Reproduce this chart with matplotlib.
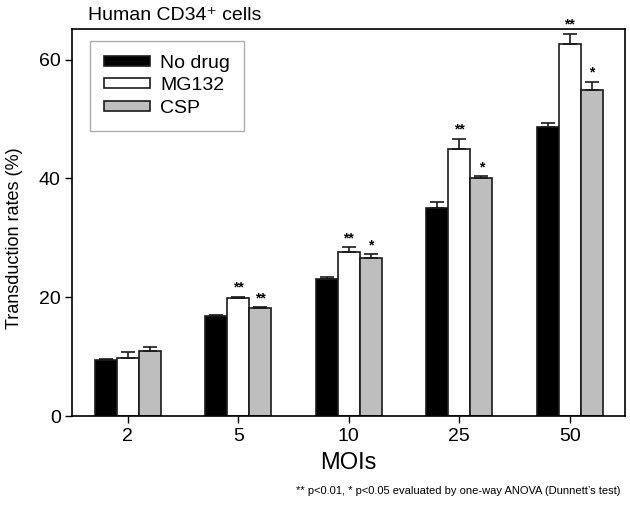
import numpy as np
import matplotlib
matplotlib.use('Agg')
import matplotlib.pyplot as plt

plt.rcParams['font.family'] = ['Liberation Sans', 'DejaVu Sans']

# ------------------------------------------------------------------------------
# data
# ------------------------------------------------------------------------------

mois = ['2', '5', '10', '25', '50']
series = ['No drug', 'MG132', 'CSP']

no_drug = [9.4, 16.9, 23.0, 35.1, 48.6]
no_drug_err = [0.2, 0.1, 0.5, 0.9, 0.8]
mg132 = [9.8, 19.8, 27.7, 45.0, 62.7]
mg132_err = [1.0, 0.3, 0.7, 1.7, 1.7]
csp = [11.0, 18.2, 26.6, 40.1, 54.9]
csp_err = [0.6, 0.2, 0.7, 0.3, 1.4]

mg132_sig = ['', '**', '**', '**', '**']
csp_sig = ['', '**', '*', '*', '*']

FACE_COLORS = ['#000000', '#ffffff', '#bebebe']
EDGE_COLOR = '#1a1a1a'

# ------------------------------------------------------------------------------
# plot
# ------------------------------------------------------------------------------

fig = plt.figure(figsize=(6.3, 5.05), dpi=100)
ax = fig.add_axes([0.115, 0.176, 0.877, 0.767])

x = np.arange(len(mois))
width = 0.2
values = [no_drug, mg132, csp]
errors = [no_drug_err, mg132_err, csp_err]
sigs = [None, mg132_sig, csp_sig]

for i, (vals, errs, fc) in enumerate(zip(values, errors, FACE_COLORS)):
    pos = x + (i - 1) * width
    ax.bar(pos, vals, width, color=fc, edgecolor=EDGE_COLOR, linewidth=1.2,
           label=series[i], zorder=2)
    ax.errorbar(pos, vals, yerr=[np.zeros(len(vals)), errs], fmt='none',
                ecolor=EDGE_COLOR, elinewidth=1.2, capsize=5, capthick=1.2,
                zorder=3)
    if sigs[i]:
        for p, v, e, s in zip(pos, vals, errs, sigs[i]):
            if s:
                ax.text(p, v + e + 0.3, s, ha='center', va='bottom',
                        fontsize=10, fontweight='bold')

ax.set_xlim(-0.5, 4.5)
ax.set_ylim(0, 65.2)
ax.set_xticks(x)
ax.set_xticklabels(mois)
ax.set_yticks([0, 20, 40, 60])
ax.tick_params(axis='both', labelsize=14, direction='out', length=5, width=1)
for sp in ax.spines.values():
    sp.set_linewidth(1.2)

ax.set_xlabel('MOIs', fontsize=17, labelpad=5)
ax.set_ylabel('Transduction rates (%)', fontsize=13)
ax.yaxis.set_label_coords(-0.09, 0.46)

leg = ax.legend(loc='upper left', bbox_to_anchor=(0.031, 0.969), borderaxespad=0,
                fontsize=14, handlelength=2.4, handleheight=0.42, labelspacing=0.28,
                fancybox=False, borderpad=0.72, handletextpad=0.5)
leg.get_frame().set_edgecolor('#999999')
leg.get_frame().set_linewidth(1.0)

fig.text(0.139, 0.952, 'Human CD34\u207a cells', fontsize=14, ha='left', va='bottom')
fig.text(0.985, 0.018, '** p<0.01, * p<0.05 evaluated by one-way ANOVA (Dunnett\u2019s test)',
         fontsize=8, ha='right', va='bottom')

fig.savefig('out.png', dpi=100)
